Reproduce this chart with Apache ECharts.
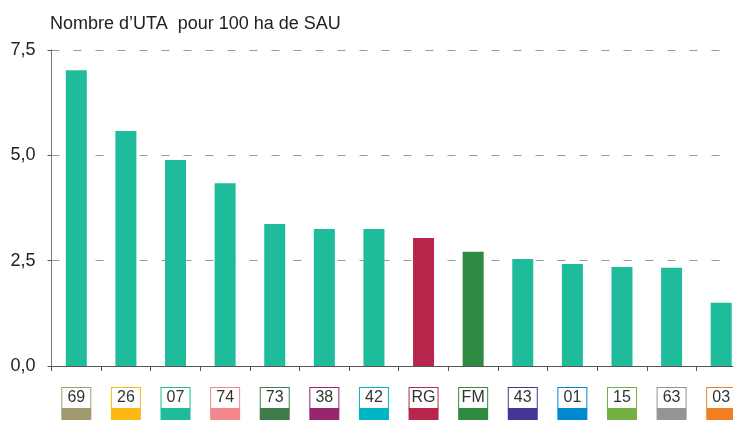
<!DOCTYPE html>
<html><head><meta charset="utf-8">
<script src="https://cdn.jsdelivr.net/npm/echarts@6/dist/echarts.min.js"></script>
<style>html,body{margin:0;padding:0;background:#fff;overflow:hidden}#c{width:746px;height:421px}</style>
</head><body><div id="c"></div>
<script>
const categories = ['69','26','07','74','73','38','42','RG','FM','43','01','15','63','03'];
const values = [7.02, 5.58, 4.89, 4.34, 3.37, 3.25, 3.25, 3.04, 2.71, 2.54, 2.42, 2.35, 2.33, 1.50];
const barColors = ['#1FBC9C','#1FBC9C','#1FBC9C','#1FBC9C','#1FBC9C','#1FBC9C','#1FBC9C','#B8264B','#2E8B41','#1FBC9C','#1FBC9C','#1FBC9C','#1FBC9C','#1FBC9C'];
const boxColors = ['#A09A6E','#FDB813','#1FBC9C','#F4878B','#3F7B4B','#96266E','#00B5C5','#B8264B','#2E8B41','#433795','#0088D1','#75B043','#949599','#F28023'];
const yTicks = [0, 2.5, 5, 7.5];

const FONT = 'Liberation Sans, Arial, sans-serif';
const rich = {};
boxColors.forEach((c, i) => {
  rich['a' + i] = {width: 28, height: 20, lineHeight: 20, align: 'center', verticalAlign: 'middle',
    backgroundColor: '#fff', borderColor: c, borderWidth: 1, color: '#333', fontSize: 16, fontFamily: FONT};
  rich['b' + i] = {width: 30, height: 12, lineHeight: 12, backgroundColor: c};
});

const chart = echarts.init(document.getElementById('c'));
chart.setOption({
  animation: false,
  backgroundColor: '#fff',
  title: {text: 'Nombre d’UTA  pour 100 ha de SAU', left: 45, top: 10,
    textStyle: {fontSize: 18, fontWeight: 'normal', color: '#222', fontFamily: FONT}},
  grid: {left: 51.5, top: 50, right: 0, bottom: 55, containLabel: false},
  xAxis: {
    type: 'category', data: categories,
    axisLine: {lineStyle: {color: '#555', width: 1}},
    axisTick: {show: true, length: 5, alignWithLabel: false, lineStyle: {color: '#555'}},
    axisLabel: {
      margin: 22, interval: 0,
      formatter: (v, i) => '{a' + i + '|' + v + '}\n{b' + i + '|}',
      rich: rich
    }
  },
  yAxis: {
    type: 'value', min: 0, max: 7.5, interval: 2.5,
    axisLine: {show: true, lineStyle: {color: '#777'}},
    axisTick: {show: true, length: 4, lineStyle: {color: '#555'}},
    axisLabel: {margin: 16, fontSize: 18, color: '#222', fontFamily: FONT,
      formatter: v => yTicks.includes(v) ? v.toFixed(1).replace('.', ',') : ''},
    splitLine: {show: true, lineStyle: {color: '#999', type: [8, 14], width: 1}}
  },
  series: [{
    type: 'bar', barWidth: 21,
    data: values.map((v, i) => ({value: v, itemStyle: {color: barColors[i]}}))
  }]
});
</script></body></html>
